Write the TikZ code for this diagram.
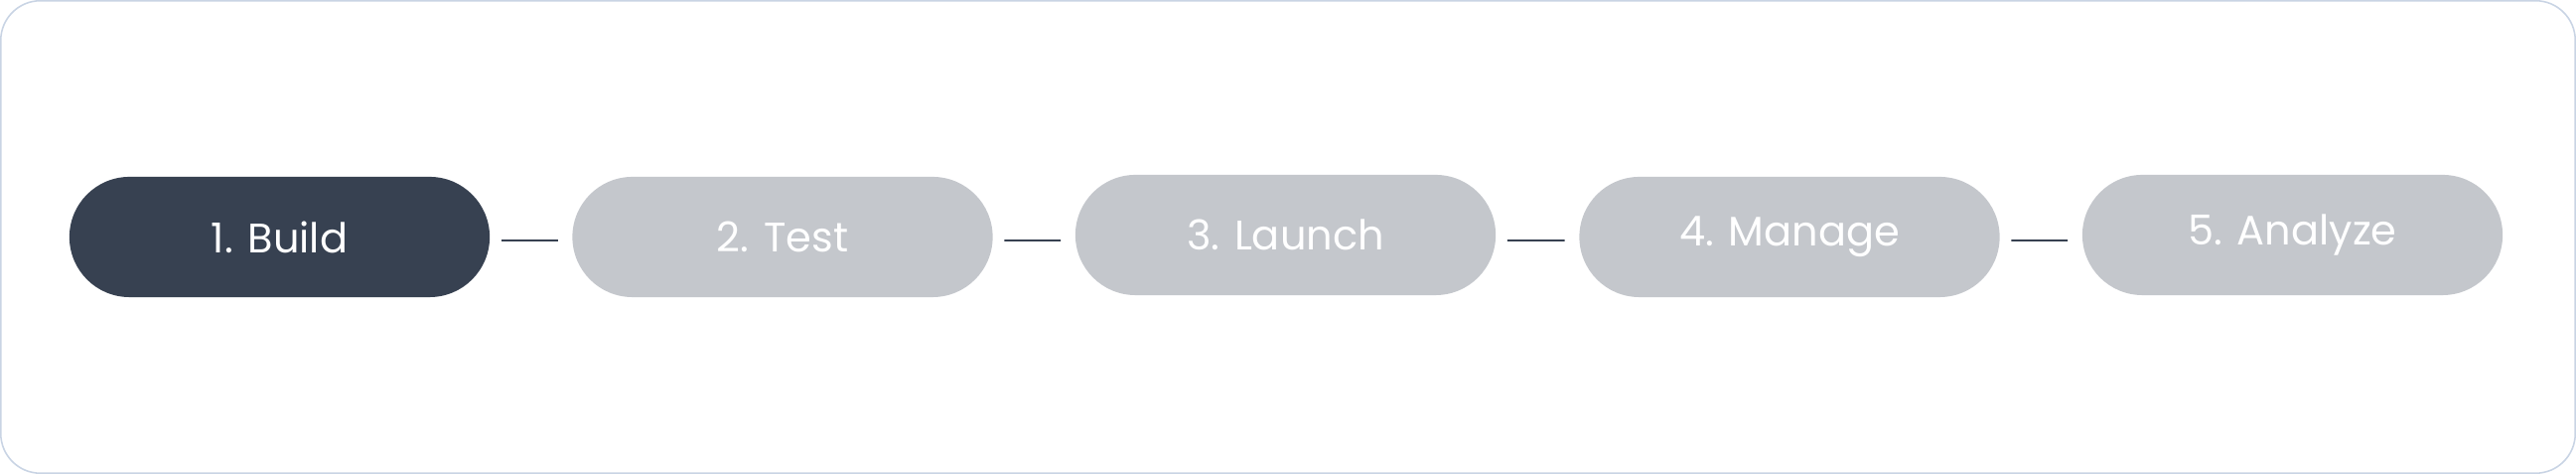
\documentclass[tikz,border=0pt]{standalone}
\usepackage{fontspec}
\setmainfont{Poppins}
\usepackage{tikz}
\usetikzlibrary{arrows,shapes}

\definecolor{stepdark}{HTML}{374151}
\definecolor{steplight}{HTML}{C4C7CC}
\definecolor{frameline}{HTML}{C9D4E4}

\tikzset{
    stage/.style={rectangle, rounded corners=0.605cm, minimum width=4.23cm, minimum height=1.21cm,
        inner sep=0pt, text=white, font=\fontsize{11.8}{14}\selectfont},
    link/.style={draw=stepdark, line width=0.5pt, shorten <=0.11cm, shorten >=0.14cm}
}

\begin{document}
\begin{tikzpicture}[x=0.01cm, y=0.01cm]
    \useasboundingbox (0, 0) rectangle (2594, 477);
    \draw[frameline, line width=0.45pt, rounded corners=0.4cm] (0.75, 0.75) rectangle (2593.25, 476.25);

    % Define nodes
    \node[stage, fill=stepdark] at (281.5, 238.5) (build) {1. Build};
    \node[stage, fill=steplight] at (788, 238.5) (test) {2. Test};
    \node[stage, fill=steplight] at (1294.5, 240.5) (launch) {3. Launch};
    \node[stage, fill=steplight] at (1802, 238.5) (manage) {4. Manage};
    \node[stage, fill=steplight] at (2308.5, 240.5) (analyze) {5. Analyze};

    % Draw links
    \draw[link] ([yshift=-0.035cm]build.east) -- ([yshift=-0.035cm]test.west);
    \draw[link] ([yshift=-0.035cm]test.east) -- ([yshift=-0.055cm]launch.west);
    \draw[link] ([yshift=-0.055cm]launch.east) -- ([yshift=-0.035cm]manage.west);
    \draw[link] ([yshift=-0.035cm]manage.east) -- ([yshift=-0.055cm]analyze.west);
\end{tikzpicture}
\end{document}
